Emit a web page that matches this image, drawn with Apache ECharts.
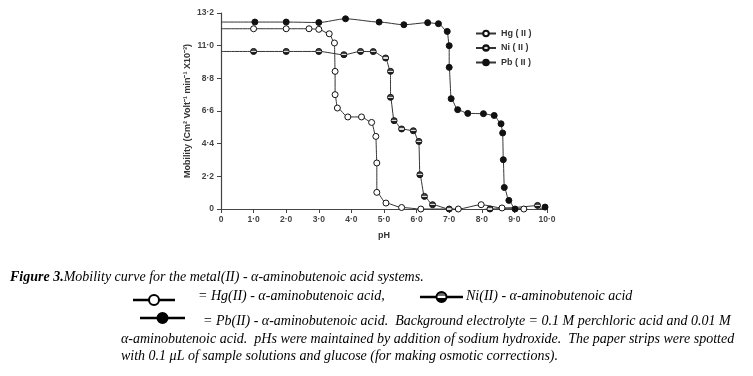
<!DOCTYPE html>
<html><head><meta charset="utf-8">
<script src="https://cdn.jsdelivr.net/npm/echarts@6/dist/echarts.min.js"></script>
<style>html,body{margin:0;padding:0;background:#fff}#c{width:753px;height:376px}</style>
</head><body><div id="c"></div>
<script>
// Data
const hgX = [0, 1.0, 2.0, 2.7, 3.0, 3.32, 3.48, 3.5, 3.5, 3.57, 3.89, 4.31, 4.62, 4.75, 4.78, 4.78, 5.06, 5.54, 6.13, 7.28, 7.98, 8.62, 9.29];
const hgY = [12.14, 12.14, 12.14, 12.14, 12.1, 11.8, 11.18, 9.27, 7.7, 6.8, 6.2, 6.2, 5.83, 4.89, 3.1, 1.12, 0.4, 0.1, 0, 0, 0.29, 0.07, 0];
const niX = [0, 1.0, 2.0, 3.0, 3.77, 4.28, 4.67, 5.05, 5.2, 5.2, 5.31, 5.54, 5.9, 6.07, 6.1, 6.24, 6.49, 7.0, 7.55, 8.25, 9.71];
const niY = [10.61, 10.61, 10.61, 10.61, 10.39, 10.61, 10.6, 10.17, 9.27, 7.52, 5.95, 5.39, 5.27, 4.55, 2.31, 0.85, 0.29, 0, -0.15, 0, 0.24];
const pbX = [0, 1.04, 2.0, 3.0, 3.82, 4.85, 5.61, 6.34, 6.67, 6.94, 7.0, 7.0, 7.06, 7.26, 7.57, 8.05, 8.38, 8.59, 8.64, 8.66, 8.69, 8.83, 9.02, 9.51, 9.94];
const pbY = [12.59, 12.59, 12.59, 12.56, 12.81, 12.59, 12.41, 12.55, 12.48, 11.96, 11.0, 9.54, 7.43, 6.69, 6.44, 6.42, 6.3, 5.74, 5.12, 3.32, 1.45, 0.58, 0, -0.15, 0.13];
const seriesNames = ['Hg ( II )', 'Ni ( II )', 'Pb ( II )'];
const xTicks = {min: 0, max: 10, step: 1};
const yTicks = {min: 0, max: 13.2, step: 2.2};

const niFill = {type:'linear', x:0, y:0, x2:0, y2:1, colorStops:[
  {offset:0, color:'#333'},{offset:0.42, color:'#555'},{offset:0.42, color:'#ddd'},
  {offset:0.58, color:'#ddd'},{offset:0.58, color:'#222'},{offset:1, color:'#222'}]};

function pts(xs, ys){ return xs.map((x,i)=> i===0 ? {value:[x,ys[i]], symbol:'none'} : [x, ys[i]]); }
function dotFmt(v){ return v===0 ? '0' : v.toFixed(1).replace('.', '·'); }

const chart = echarts.init(document.getElementById('c'), null, {renderer:'canvas'});
const fills = ['#fff', niFill, '#111'];
const datas = [pts(hgX,hgY), pts(niX,niY), pts(pbX,pbY)];
chart.setOption({
  animation:false,
  grid:{left:221, right:206, top:13, bottom:167, containLabel:false},
  legend:{orient:'vertical', left:470, top:24, itemWidth:20, itemHeight:7, itemGap:5.5,
    textStyle:{fontSize:9, fontWeight:'bold', color:'#333', fontFamily:'Liberation Sans'},
    data: seriesNames},
  xAxis:{type:'value', min:xTicks.min, max:xTicks.max, interval:xTicks.step,
    name:'pH', nameLocation:'middle', nameGap:22,
    nameTextStyle:{fontSize:9, fontWeight:'bold', color:'#333', fontFamily:'Liberation Sans'},
    axisLine:{lineStyle:{color:'#444', width:1.2}},
    axisTick:{length:4, lineStyle:{color:'#444'}},
    axisLabel:{fontSize:8.5, fontWeight:'bold', color:'#444', margin:6, formatter:dotFmt, fontFamily:'Liberation Sans'},
    splitLine:{show:false}},
  yAxis:{type:'value', min:yTicks.min, max:yTicks.max, interval:yTicks.step,
    name:'Mobility (Cm² Volt⁻¹ min⁻¹ X10⁻³)', nameLocation:'middle', nameGap:29, nameRotate:90,
    nameTextStyle:{fontSize:9, fontWeight:'bold', color:'#333', fontFamily:'Liberation Sans'},
    axisLine:{show:true, lineStyle:{color:'#444', width:1.2}},
    axisTick:{show:true, length:4, lineStyle:{color:'#444'}},
    axisLabel:{fontSize:8.5, fontWeight:'bold', color:'#444', margin:7, formatter:dotFmt, fontFamily:'Liberation Sans'},
    splitLine:{show:false}},
  series: seriesNames.map((n,i)=>({
    name:n, type:'line', data:datas[i], smooth:0.25, smoothMonotone:'x',
    symbol:'circle', symbolSize:6, showSymbol:true,
    lineStyle:{color:'#333', width:1},
    itemStyle:{color:fills[i], borderColor:'#111', borderWidth:1}
  })),
  graphic: buildCaption()
});

function capSym(x, y, fill, w){
  return [
    {type:'line', shape:{x1:x, y1:y, x2:x+w, y2:y}, style:{stroke:'#000', lineWidth:2.5}},
    {type:'circle', shape:{cx:x+w/2, cy:y, r:5}, style:{fill:fill, stroke:'#000', lineWidth:2}}
  ];
}
function txt(x, y, t){
  return {type:'text', left:x, top:y, style:{text:t, fontSize:14, fontStyle:'italic',
    fontFamily:'Liberation Serif', fill:'#000'}};
}
function buildCaption(){
  const g = [];
  g.push({type:'text', left:10, top:270, style:{
    text:'{b|Figure 3.}Mobility curve for the metal(II) - α-aminobutenoic acid systems.',
    fontSize:14, fontStyle:'italic', fontFamily:'Liberation Serif', fill:'#000',
    rich:{b:{fontWeight:'bold', fontStyle:'italic', fontSize:14, fontFamily:'Liberation Serif'}}}});
  g.push(...capSym(133, 300, '#fff', 42));
  g.push(txt(198, 289, '= Hg(II) - α-aminobutenoic acid,'));
  g.push(...capSym(420, 297, {type:'linear',x:0,y:0,x2:0,y2:1,colorStops:[{offset:0,color:'#555'},{offset:0.45,color:'#777'},{offset:0.45,color:'#fff'},{offset:0.6,color:'#fff'},{offset:0.6,color:'#000'},{offset:1,color:'#000'}]}, 43));
  g.push(txt(466, 289, 'Ni(II) - α-aminobutenoic acid'));
  g.push(...capSym(140, 318, '#000', 45));
  g.push(txt(203, 314, '= Pb(II) - α-aminobutenoic acid.  Background electrolyte = 0.1 M perchloric acid and 0.01 M'));
  g.push(txt(121, 332, 'α-aminobutenoic acid.  pHs were maintained by addition of sodium hydroxide.  The paper strips were spotted'));
  g.push(txt(121, 349, 'with 0.1 μL of sample solutions and glucose (for making osmotic corrections).'));
  return g;
}
</script></body></html>
